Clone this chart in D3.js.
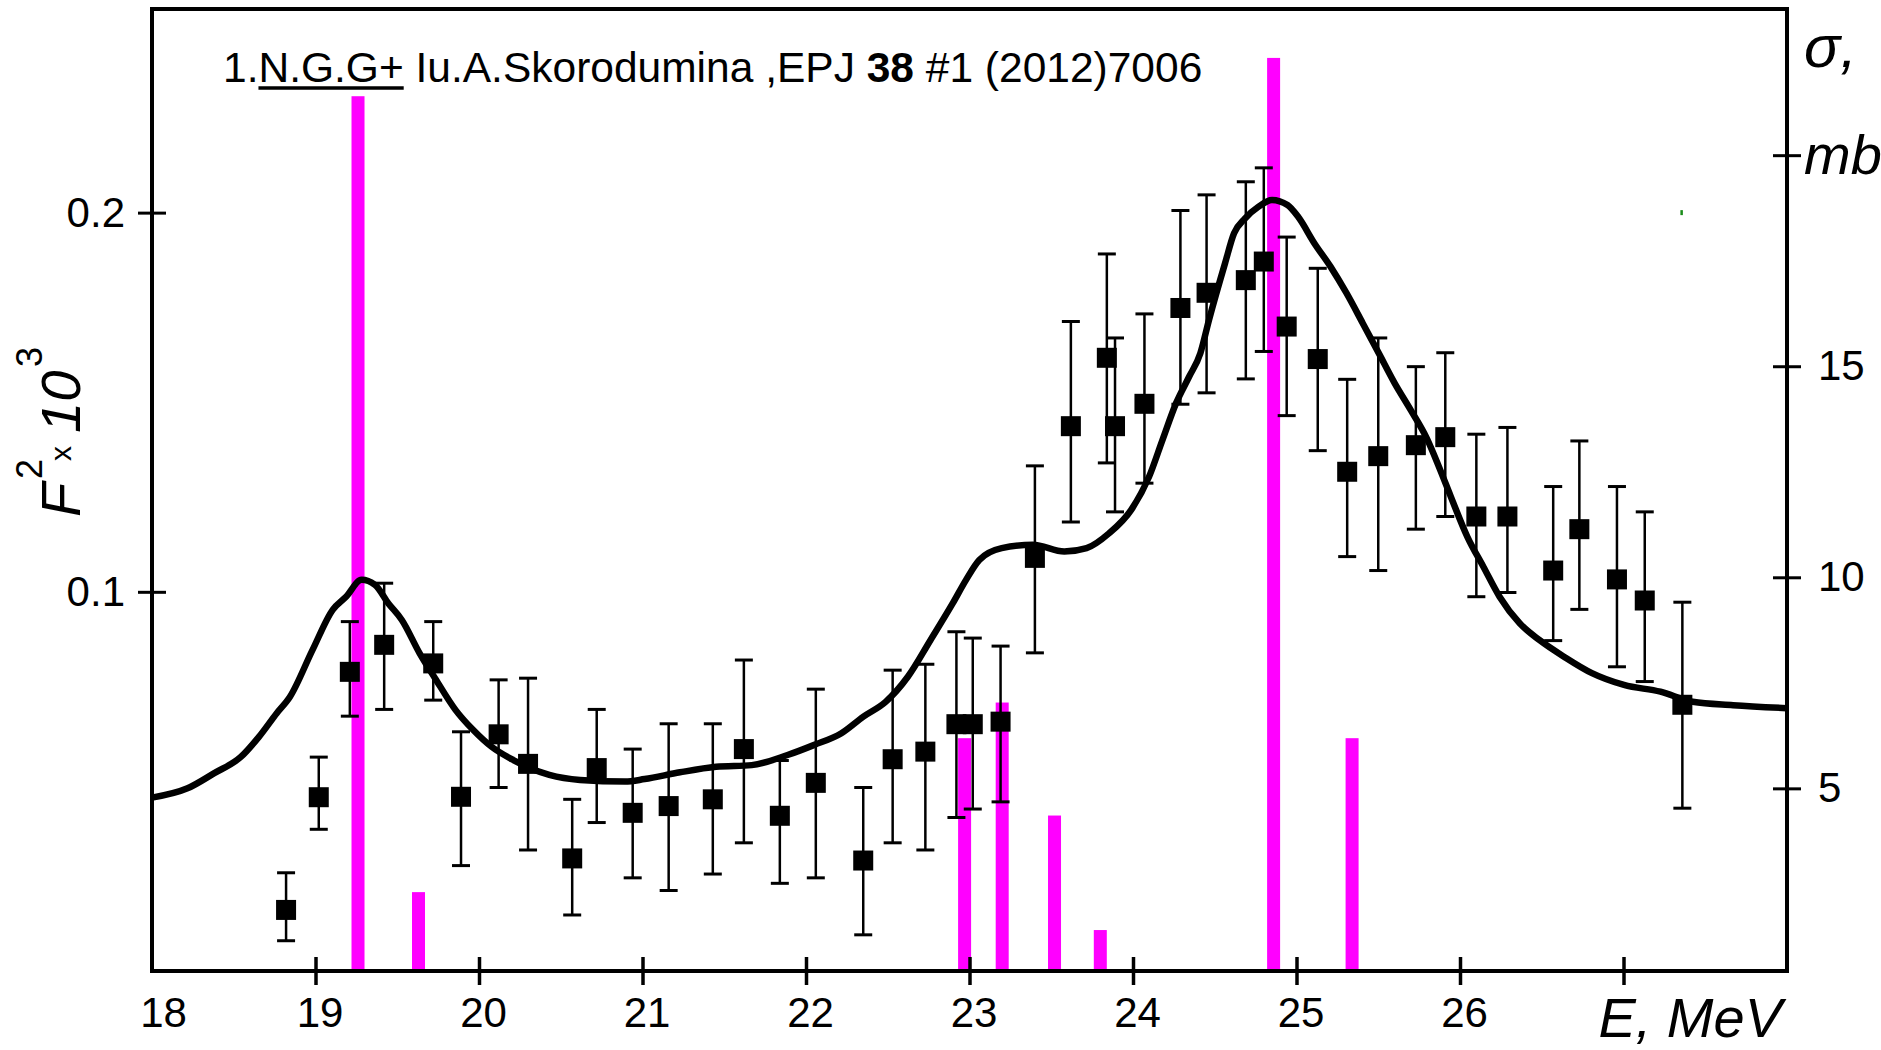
<!DOCTYPE html>
<html>
<head>
<meta charset="utf-8">
<script src="https://cdn.jsdelivr.net/npm/d3@7"></script>
<style>
  html, body { margin: 0; padding: 0; background: #fff; }
  svg { display: block; }
  text { font-family: "Liberation Sans", Arial, sans-serif; fill: #000; }
</style>
</head>
<body>
<svg id="chart" width="1881" height="1050"></svg>
<script>
// ---------- data ----------
const xTickValues = [18, 19, 20, 21, 22, 23, 24, 25, 26, 27];
const xTickLabels = ["18", "19", "20", "21", "22", "23", "24", "25", "26", ""];
const leftTickValues = [0.1, 0.2];
const leftTickLabels = ["0.1", "0.2"];
const rightTickValues = [5, 10, 15, 20];
const rightTickLabels = ["5", "10", "15", "mb"];

// magenta bars: F^2 x 10^3 (left axis)
const barE  = [19.26, 19.63, 22.97, 23.20, 23.52, 23.80, 24.86, 25.34];
const barF2 = [0.2307, 0.0208, 0.0614, 0.0708, 0.0410, 0.0108, 0.2408, 0.0614];

// experimental points: sigma, mb (right axis)
const pointE     = [18.82, 19.02, 19.21, 19.42, 19.72, 19.89, 20.12, 20.30, 20.57, 20.72, 20.94, 21.16, 21.43, 21.62, 21.84, 22.06, 22.35, 22.53, 22.73, 22.92, 23.02, 23.19, 23.40, 23.62, 23.84, 23.89, 24.07, 24.29, 24.45, 24.69, 24.80, 24.94, 25.13, 25.31, 25.50, 25.73, 25.91, 26.10, 26.29, 26.57, 26.73, 26.96, 27.13, 27.36];
const pointSigma = [2.12, 4.79, 7.76, 8.40, 7.96, 4.80, 6.28, 5.58, 3.34, 5.48, 4.42, 4.58, 4.74, 5.93, 4.35, 5.13, 3.29, 5.69, 5.87, 6.52, 6.52, 6.58, 10.46, 13.58, 15.20, 13.58, 14.11, 16.38, 16.74, 17.04, 17.48, 15.94, 15.17, 12.50, 12.87, 13.13, 13.32, 11.44, 11.44, 10.16, 11.14, 9.95, 9.45, 6.98];
const errLow     = [1.39, 4.03, 6.71, 6.87, 7.09, 3.17, 5.02, 3.54, 2.00, 4.19, 2.88, 2.58, 2.97, 3.71, 2.75, 2.88, 1.53, 3.71, 3.54, 4.31, 4.51, 4.68, 8.21, 11.31, 12.71, 11.55, 12.23, 14.10, 14.37, 14.70, 15.35, 13.83, 13.00, 10.49, 10.16, 11.14, 11.44, 9.54, 9.64, 8.50, 9.24, 7.88, 7.53, 4.53];
const errHigh    = [3.00, 5.74, 8.95, 9.86, 8.95, 6.34, 7.57, 7.61, 4.74, 6.87, 5.93, 6.53, 6.53, 8.04, 5.66, 7.35, 5.02, 7.80, 7.94, 8.71, 8.56, 8.37, 12.64, 16.06, 17.66, 15.67, 16.24, 18.69, 19.06, 19.37, 19.70, 18.06, 17.32, 14.69, 15.67, 14.99, 15.32, 13.39, 13.55, 12.15, 13.23, 12.15, 11.55, 9.41];

// fitted curve: sigma, mb (right axis)
const curveE     = [18.0, 18.217, 18.381, 18.545, 18.654, 18.763, 18.844, 18.982, 19.105, 19.187, 19.282, 19.364, 19.446, 19.528, 19.637, 19.731, 19.856, 19.965, 20.075, 20.21, 20.43, 20.618, 20.893, 21.013, 21.229, 21.45, 21.668, 21.887, 22.051, 22.214, 22.351, 22.487, 22.624, 22.761, 22.897, 22.979, 23.06, 23.197, 23.388, 23.58, 23.716, 23.853, 23.988, 24.098, 24.18, 24.263, 24.343, 24.412, 24.465, 24.563, 24.618, 24.685, 24.768, 24.85, 24.945, 25.01, 25.11, 25.208, 25.306, 25.405, 25.503, 25.60, 25.699, 25.797, 25.871, 25.944, 26.045, 26.143, 26.242, 26.365, 26.487, 26.636, 26.807, 27.003, 27.226, 27.423, 27.67, 28.0];
const curveSigma = [4.78, 5.00, 5.36, 5.75, 6.22, 6.78, 7.17, 8.28, 9.23, 9.54, 9.94, 9.82, 9.38, 8.99, 8.20, 7.61, 6.86, 6.38, 5.99, 5.67, 5.32, 5.20, 5.16, 5.22, 5.38, 5.51, 5.55, 5.79, 6.03, 6.30, 6.70, 7.05, 7.65, 8.51, 9.38, 9.94, 10.41, 10.69, 10.77, 10.61, 10.69, 11.04, 11.59, 12.38, 13.25, 14.12, 14.75, 15.31, 16.10, 17.44, 18.15, 18.50, 18.78, 18.94, 18.82, 18.54, 17.91, 17.36, 16.73, 16.02, 15.31, 14.60, 13.96, 13.29, 12.62, 11.91, 10.96, 10.25, 9.54, 8.91, 8.51, 8.12, 7.73, 7.45, 7.29, 7.05, 6.97, 6.90];

// small stray green mark in the original
const markE  = [27.354];
const markF2 = [0.2];

// ---------- layout ----------
const L = 152, R = 1787, T = 9, B = 971;
const svg = d3.select("#chart");
svg.append("rect").attr("width", 1881).attr("height", 1050).attr("fill", "#fff");

const x  = d3.scaleLinear().domain([18, 28]).range([L, R]);
const yL = d3.scaleLinear().domain([0, 0.2537]).range([B, T]);
const yR = d3.scaleLinear().domain([0.673, 23.463]).range([B, T]);

// bars
svg.append("g").selectAll("rect").data(barE).join("rect")
  .attr("x", (d) => x(d) - 6.5)
  .attr("width", 13)
  .attr("y", (d, i) => yL(barF2[i]))
  .attr("height", (d, i) => yL(0) - yL(barF2[i]))
  .attr("fill", "#ff00ff");

// green mark
svg.append("g").selectAll("rect").data(markE).join("rect")
  .attr("x", (d) => x(d) - 1)
  .attr("y", (d, i) => yL(markF2[i]) - 2.5)
  .attr("width", 2.5).attr("height", 5)
  .attr("fill", "#1a8c1a");

// curve
const line = d3.line()
  .x((d) => x(d[0]))
  .y((d) => yR(d[1]))
  .curve(d3.curveMonotoneX);
svg.append("path")
  .datum(curveE.map((e, i) => [e, curveSigma[i]]))
  .attr("d", line)
  .attr("fill", "none")
  .attr("stroke", "#000")
  .attr("stroke-width", 6.5)
  .attr("stroke-linejoin", "round");

// error bars
const eb = svg.append("g").attr("stroke", "#000").attr("stroke-width", 2.5);
pointE.forEach((e, i) => {
  const cx = x(e);
  eb.append("line").attr("x1", cx).attr("x2", cx).attr("y1", yR(errLow[i])).attr("y2", yR(errHigh[i]));
  eb.append("line").attr("x1", cx - 9).attr("x2", cx + 9).attr("y1", yR(errLow[i])).attr("y2", yR(errLow[i])).attr("stroke-width", 3);
  eb.append("line").attr("x1", cx - 9).attr("x2", cx + 9).attr("y1", yR(errHigh[i])).attr("y2", yR(errHigh[i])).attr("stroke-width", 3);
});

// squares
svg.append("g").selectAll("rect").data(pointE).join("rect")
  .attr("x", (d) => x(d) - 10)
  .attr("y", (d, i) => yR(pointSigma[i]) - 10)
  .attr("width", 20).attr("height", 20)
  .attr("fill", "#000");

// frame
svg.append("rect")
  .attr("x", L).attr("y", T).attr("width", R - L).attr("height", B - T)
  .attr("fill", "none").attr("stroke", "#000").attr("stroke-width", 4);

// x axis (ticks crossing the frame)
const xAxis = d3.axisBottom(x).tickValues(xTickValues)
  .tickFormat((d, i) => xTickLabels[i]).tickSize(28).tickSizeOuter(0).tickPadding(12);
const gx = svg.append("g").attr("transform", `translate(0,${B - 14})`).call(xAxis);
gx.select(".domain").remove();
gx.selectAll(".tick line").attr("stroke", "#000").attr("stroke-width", 3.5)
  .filter((d) => d === 18).remove();
gx.selectAll(".tick text").attr("font-size", 42).attr("font-family", "Liberation Sans, Arial, sans-serif")
  .attr("fill", "#000")
  .attr("dx", (d) => d === 18 ? 11 : 4);

// left axis
const yAxisL = d3.axisLeft(yL).tickValues(leftTickValues)
  .tickFormat((d, i) => leftTickLabels[i]).tickSize(28).tickSizeOuter(0).tickPadding(13);
const gl = svg.append("g").attr("transform", `translate(${L + 14},0)`).call(yAxisL);
gl.select(".domain").remove();
gl.selectAll(".tick line").attr("stroke", "#000").attr("stroke-width", 3);
gl.selectAll(".tick text").attr("font-size", 42).attr("font-family", "Liberation Sans, Arial, sans-serif").attr("fill", "#000");

// right axis
const yAxisR = d3.axisRight(yR).tickValues(rightTickValues)
  .tickFormat((d, i) => rightTickLabels[i]).tickSize(28).tickSizeOuter(0).tickPadding(17);
const gr = svg.append("g").attr("transform", `translate(${R - 14},0)`).call(yAxisR);
gr.select(".domain").remove();
gr.selectAll(".tick line").attr("stroke", "#000").attr("stroke-width", 3);
gr.selectAll(".tick text").attr("font-size", 42).attr("font-family", "Liberation Sans, Arial, sans-serif").attr("fill", "#000");
gr.selectAll(".tick text").filter((d) => d === 20)
  .attr("font-size", 56).attr("font-style", "italic").attr("x", 31);

// sigma label
svg.append("text").attr("x", 1804).attr("y", 67)
  .attr("font-size", 60).attr("font-style", "italic").text("σ,");

// x-axis title
svg.append("text").attr("x", 1782).attr("y", 1037).attr("text-anchor", "end")
  .attr("font-size", 56).attr("font-style", "italic").text("E, MeV");

// y-axis title F^2 x 10^3 (rotated)
const yt = svg.append("g").attr("transform", "translate(80,517) rotate(-90)");
yt.append("text").attr("x", 0).attr("y", 0).attr("font-size", 56).attr("font-style", "italic").text("F");
yt.append("text").attr("x", 38).attr("y", -38).attr("font-size", 36).text("2");
yt.append("text").attr("x", 56).attr("y", -9).attr("font-size", 30).text("x");
yt.append("text").attr("x", 84).attr("y", 0).attr("font-size", 56).attr("font-style", "italic").text("10");
yt.append("text").attr("x", 150).attr("y", -38).attr("font-size", 36).text("3");

// title
const title = svg.append("text").attr("x", 223).attr("y", 82).attr("font-size", 42.5);
title.append("tspan").text("1.");
title.append("tspan").text("N.G.G+");
title.append("tspan").text(" Iu.A.Skorodumina ,EPJ ");
title.append("tspan").attr("font-weight", "bold").text("38");
title.append("tspan").text(" #1 (2012)7006");
const tnode = title.node();
const ulStart = tnode.getStartPositionOfChar(2).x;
const ulEnd = tnode.getEndPositionOfChar(7).x;
svg.append("line").attr("x1", ulStart).attr("x2", ulEnd).attr("y1", 88).attr("y2", 88)
  .attr("stroke", "#000").attr("stroke-width", 3.5);
</script>
</body>
</html>
